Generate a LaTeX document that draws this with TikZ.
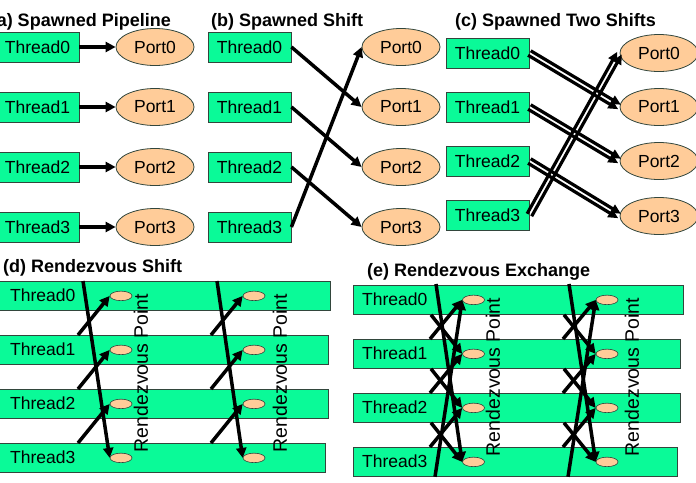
\documentclass[tikz,border=0pt]{standalone}
\usepackage{fontspec}
\setmainfont{Liberation Sans}
\usetikzlibrary{arrows.meta,shapes.geometric,calc}
\definecolor{tgreen}{RGB}{10,250,152}
\definecolor{tpeach}{RGB}{255,204,153}
\definecolor{tedge}{RGB}{50,70,60}
\begin{document}
\begin{tikzpicture}[x=1pt,y=-1pt,
  thr/.style={draw=tedge, fill=tgreen, line width=0.8pt, minimum width=83pt, minimum height=30pt, inner sep=0pt, font=\fontsize{17.5}{20}\selectfont},
  port/.style={ellipse, draw=tedge, fill=tpeach, line width=0.8pt, minimum width=78pt, minimum height=37pt, inner sep=0pt, font=\fontsize{17.5}{20}\selectfont},
  bar/.style={draw=tedge, fill=tgreen, line width=0.8pt, minimum height=29pt, anchor=north west, inner sep=0pt},
  rp/.style={ellipse, draw=tedge, fill=tpeach, line width=0.6pt, minimum width=22pt, minimum height=9.5pt, inner sep=0pt},
  arr/.style={line width=3.5pt, -{Triangle[length=10pt,width=10pt]}},
  carr/.style={line width=3.2pt, -{Triangle[length=10pt,width=9pt]}},
  darr/.style={line width=3.5pt, -{Triangle[length=10pt,width=10pt]}},
  ttl/.style={font=\bfseries\fontsize{18}{20}\selectfont, anchor=base west, inner sep=0pt},
  lbl/.style={font=\fontsize{17.5}{20}\selectfont, anchor=west, inner sep=0pt},
  rvt/.style={rotate=90, font=\fontsize{19.5}{22}\selectfont, inner sep=0pt}
]
\useasboundingbox (0,0) rectangle (696,482);

% ---------- titles
\node[ttl, anchor=base east] (ta) at (171,26) {(a) Spawned Pipeline};
\node[ttl] (tb) at (211,26) {(b) Spawned Shift};
\node[ttl] (tc) at (455,26) {(c) Spawned Two Shifts};
\node[ttl] (td) at (3,272) {(d) Rendezvous Shift};
\node[ttl] (te) at (367,276) {(e) Rendezvous Exchange};

% ---------- (a)
\foreach \i/\y in {0/47,1/107,2/167,3/227} {
  \node[thr] (a\i) at (37.5,\y) {Thread\i};
  \node[port] (ap\i) at (155,\y) {Port\i};
  \draw[arr] (a\i.east) -- (ap\i.west);
}

% ---------- (b)
\foreach \i/\y in {0/47,1/107,2/167,3/227} {
  \node[thr] (b\i) at (249.5,\y) {Thread\i};
  \node[port] (bp\i) at (401,\y) {Port\i};
}
\foreach \s/\d in {0/1,1/2,2/3,3/0} {
  \draw[arr] (b\s.east) -- (bp\d.west);
}

% ---------- (c)
\foreach \i/\y/\py in {0/53/53,1/107/107,2/161/161,3/215/216} {
  \node[thr] (c\i) at (487.5,\y) {Thread\i};
  \node[port] (cp\i) at (659,\py) {Port\i};
}
\foreach \s/\d in {0/1,1/2,2/3,3/0} {
  \draw[carr] ($(c\s.east)!2.6pt!90:(cp\d.west)$) -- ($(cp\d.west)!2.6pt!-90:(c\s.east)$);
  \draw[carr] ($(c\s.east)!2.6pt!-90:(cp\d.west)$) -- ($(cp\d.west)!2.6pt!90:(c\s.east)$);
}

% ---------- (d)
\foreach \i/\t/\w in {0/281/331,1/335/329,2/389/329,3/443/326} {
  \node[bar, minimum width=\w pt] (d\i) at (-1,\t) {};
  \node[lbl] (dt\i) at (10,\t+14.5) {Thread\i};
  \node[rp] (dA\i) at ($(d\i.west)+(122,0)$) {};
  \node[rp] (dB\i) at ($(d\i.west)+(255,0)$) {};
}
\foreach \i/\j in {1/0,2/1,3/2} {
  \coordinate (dsA\i) at ($(d\i.north west)+(79,0)$);
  \coordinate (dsB\i) at ($(d\i.north west)+(212,0)$);
  \draw[darr] (dsA\i) -- (dA\j.west);
  \draw[darr] (dsB\i) -- (dB\j.west);
}
\coordinate (dlA) at ($(d0.north west)+(84,0)$);
\coordinate (dlB) at ($(d0.north west)+(218,0)$);
\draw[darr] (dlA) -- (dA3.west);
\draw[darr] (dlB) -- (dB3.west);
\node[rvt] (rdA) at (141,373) {Rendezvous Point};
\node[rvt] (rdB) at (280,373) {Rendezvous Point};

% ---------- (e)
\foreach \i/\t/\w in {0/285/330,1/339/327,2/393/327,3/447/324} {
  \node[bar, minimum width=\w pt] (e\i) at (353,\t) {};
  \node[lbl] (et\i) at (362,\t+14.5) {Thread\i};
  \node[rp] (eA\i) at ($(e\i.west)+(120.5,0)$) {};
  \node[rp] (eB\i) at ($(e\i.west)+(254,0)$) {};
}
\foreach \i/\j in {0/1,1/2,2/3} {
  \coordinate (exA\i) at ($(e\i.south west)+(78,0)$);
  \coordinate (exB\i) at ($(e\i.south west)+(211,0)$);
  \coordinate (eyA\j) at ($(e\j.north west)+(77,0)$);
  \coordinate (eyB\j) at ($(e\j.north west)+(210,0)$);
  \draw[darr] (exA\i) -- (eA\j.west);
  \draw[darr] (eyA\j) -- (eA\i.west);
  \draw[darr] (exB\i) -- (eB\j.west);
  \draw[darr] (eyB\j) -- (eB\i.west);
}
\coordinate (etA) at ($(e0.north west)+(83,-1)$);
\coordinate (ebA) at ($(e3.south west)+(82,0)$);
\coordinate (etB) at ($(e0.north west)+(216,-1)$);
\coordinate (ebB) at ($(e3.south west)+(215,0)$);
\draw[darr] (etA) -- (eA3.west);
\draw[darr] (ebA) -- (eA0.west);
\draw[darr] (etB) -- (eB3.west);
\draw[darr] (ebB) -- (eB0.west);
\node[rvt] (reA) at (493,377) {Rendezvous Point};
\node[rvt] (reB) at (632,377) {Rendezvous Point};
\end{tikzpicture}
\end{document}
